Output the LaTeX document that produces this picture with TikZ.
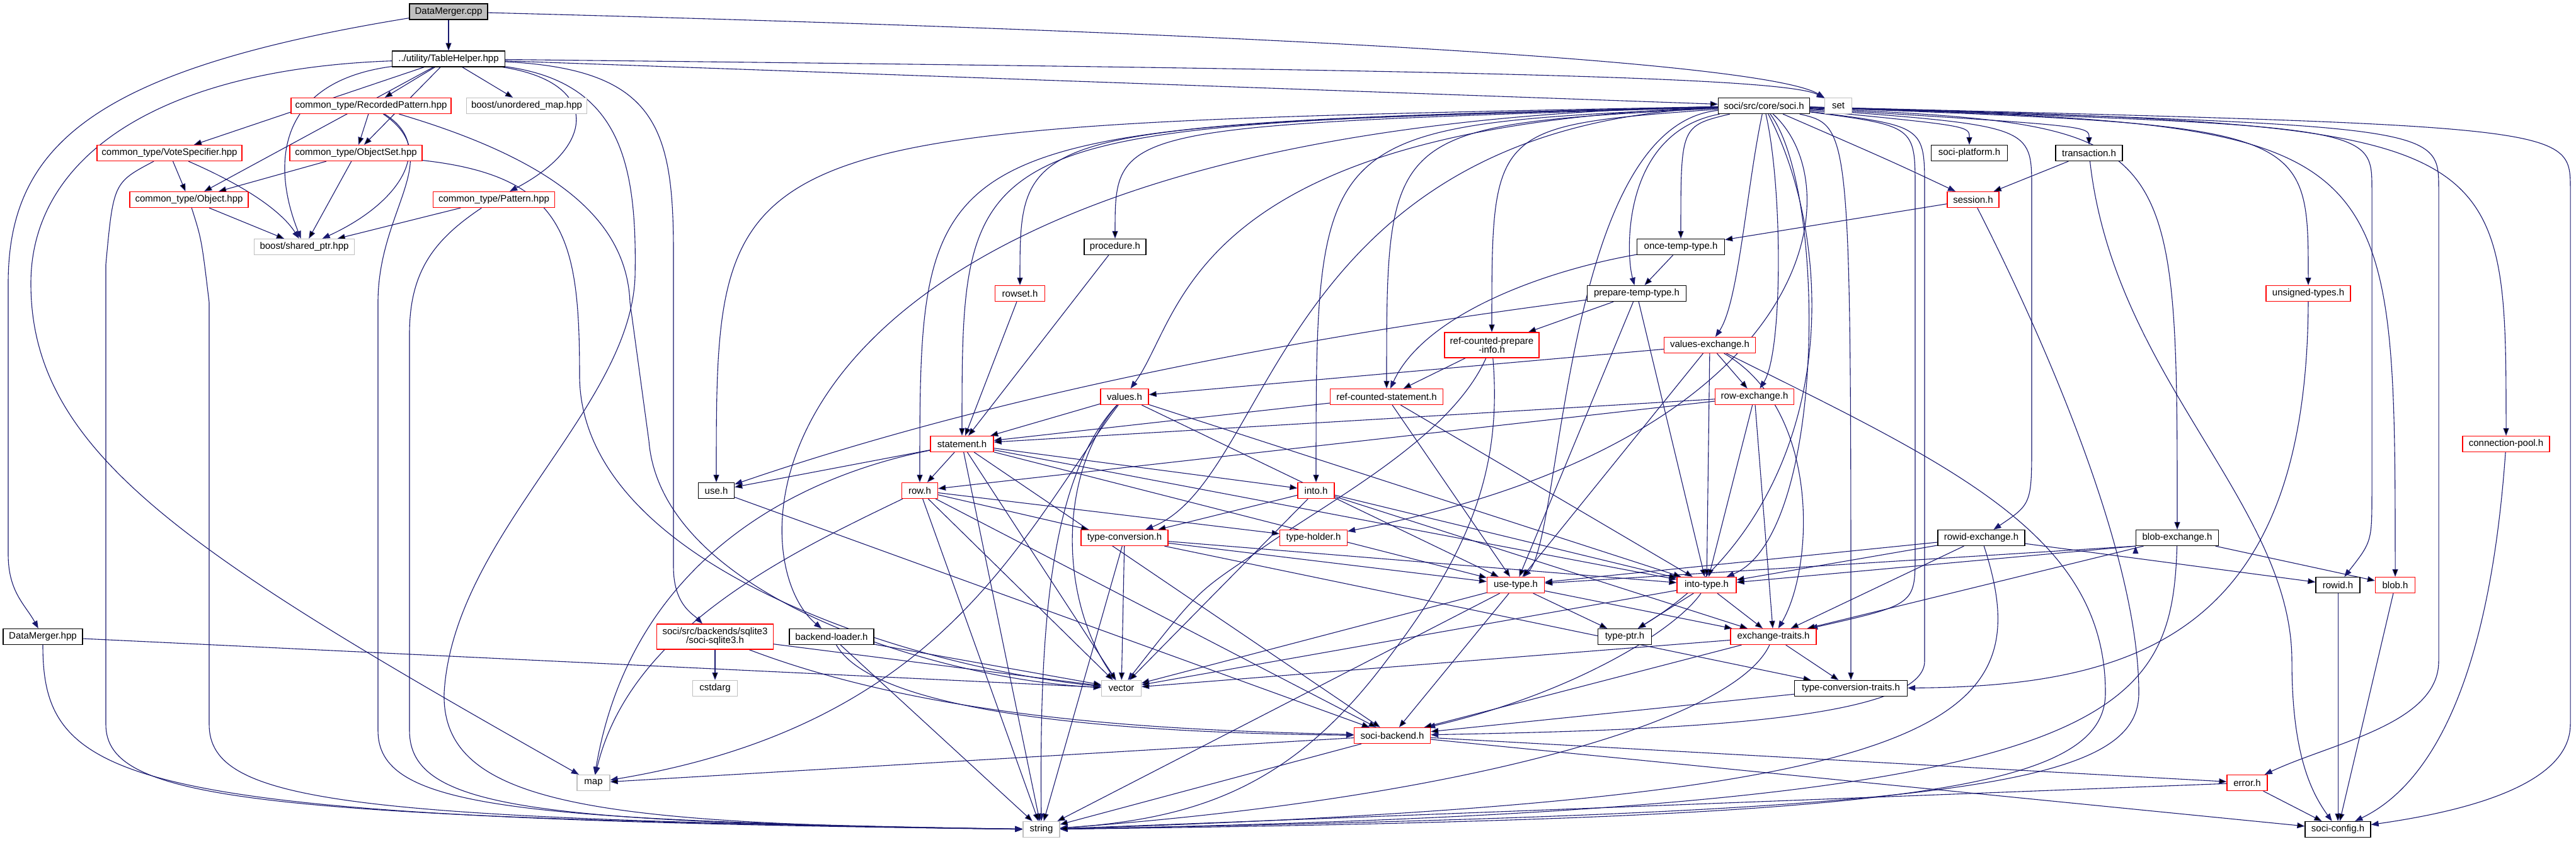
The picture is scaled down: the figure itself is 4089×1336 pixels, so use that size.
\documentclass[tikz,border=0pt]{standalone}
\usepackage{fontspec}
\setmainfont{Liberation Sans}
\usetikzlibrary{arrows.meta}

\definecolor{edgeblue}{HTML}{191970}
\definecolor{extgray}{HTML}{BFBFBF}
\definecolor{trunc}{HTML}{FF0000}

\pgfdeclarelayer{wires}
\pgfsetlayers{wires,main}

\tikzset{
  hdr/.style={draw=black, fill=white, line width=1.3pt, minimum height=25pt,
    inner sep=2pt, font=\fontsize{15}{14}\selectfont},
  hdrred/.style={hdr, draw=trunc},
  hdrext/.style={hdr, draw=extgray},
  hdrtop/.style={hdr, fill=extgray},
  dep/.style={draw=edgeblue, line width=1.1pt, -{Triangle[length=12pt,width=9pt]}},
  sociarc/.style={to path={.. controls (\tikztotarget |- fanrow) .. (\tikztotarget)}}
}

\begin{document}
\begin{tikzpicture}[x=1pt, y=1pt]
    \useasboundingbox (0,0) rectangle (4089,-1336);
    \coordinate (fanrow) at (0,-200);

    % --- Project files ---
    \node[hdrtop, minimum width=124pt] (dmcpp) at (712,-18.5) {DataMerger.cpp};
    \node[hdr, minimum width=179pt] (tblhelper) at (712,-93.5) {../utility/TableHelper.hpp};
    \node[hdrred, minimum width=254pt] (recpat) at (589,-168) {common\_type/RecordedPattern.hpp};
    \node[hdrext, minimum width=191pt] (umap) at (836,-168) {boost/unordered\_map.hpp};
    \node[hdrred, minimum width=230pt] (votespec) at (269,-243) {common\_type/VoteSpecifier.hpp};
    \node[hdrred, minimum width=210pt] (objset) at (565,-243) {common\_type/ObjectSet.hpp};
    \node[hdrred, minimum width=188pt] (object) at (300,-317) {common\_type/Object.hpp};
    \node[hdrred, minimum width=193pt] (pattern) at (784,-317) {common\_type/Pattern.hpp};
    \node[hdrext, minimum width=159pt] (sharedptr) at (483,-392) {boost/shared\_ptr.hpp};
    \node[hdr, minimum width=126pt] (dmhpp) at (68,-1011) {DataMerger.hpp};

    % --- soci core ---
    \node[hdr, minimum width=145pt] (soci) at (2800,-168) {soci/src/core/soci.h};
    \node[hdrext, minimum width=43pt] (set) at (2918,-168) {set};
    \node[hdr, minimum width=121pt] (platform) at (3126,-243) {soci-platform.h};
    \node[hdr, minimum width=106pt] (transaction) at (3316,-243) {transaction.h};
    \node[hdrred, minimum width=82pt] (session) at (3132,-317) {session.h};
    \node[hdr, minimum width=98pt] (procedure) at (1770,-392) {procedure.h};
    \node[hdr, minimum width=139pt] (oncetemp) at (2668,-392) {once-temp-type.h};
    \node[hdrred, minimum width=79pt] (rowset) at (1619,-466) {rowset.h};
    \node[hdr, minimum width=157pt] (preptemp) at (2598,-466) {prepare-temp-type.h};
    \node[hdrred, minimum width=134pt] (unsigned) at (3664,-466) {unsigned-types.h};
    \node[hdrred, minimum width=150pt, minimum height=40pt, align=center] (rcprepinfo) at (2368,-548) {ref-counted-prepare\\-info.h};
    \node[hdrred, minimum width=145pt] (valuesexch) at (2714,-548) {values-exchange.h};
    \node[hdrred, minimum width=76pt] (values) at (1785,-630) {values.h};
    \node[hdrred, minimum width=179pt] (rcstatement) at (2201,-630) {ref-counted-statement.h};
    \node[hdrred, minimum width=125pt] (rowexch) at (2785,-630) {row-exchange.h};
    \node[hdrred, minimum width=100pt] (statement) at (1527,-705) {statement.h};
    \node[hdrred, minimum width=138pt] (connpool) at (3978,-705) {connection-pool.h};
    \node[hdr, minimum width=57pt] (use) at (1137,-779) {use.h};
    \node[hdrred, minimum width=57pt] (row) at (1460,-779) {row.h};
    \node[hdrred, minimum width=58pt] (into) at (2089,-779) {into.h};
    \node[hdrred, minimum width=138pt] (typeconv) at (1785,-854) {type-conversion.h};
    \node[hdrred, minimum width=107pt] (typeholder) at (2085,-854) {type-holder.h};
    \node[hdr, minimum width=138pt] (rowidexch) at (3145,-854) {rowid-exchange.h};
    \node[hdr, minimum width=131pt] (blobexch) at (3456,-854) {blob-exchange.h};
    \node[hdrred, minimum width=91pt] (usetype) at (2406,-929) {use-type.h};
    \node[hdrred, minimum width=94pt] (intotype) at (2709,-929) {into-type.h};
    \node[hdr, minimum width=70pt] (rowid) at (3711,-929) {rowid.h};
    \node[hdrred, minimum width=63pt] (blob) at (3802,-929) {blob.h};
    \node[hdrred, minimum width=185pt, minimum height=40pt, align=center] (sqlite3) at (1135,-1011) {soci/src/backends/sqlite3\\/soci-sqlite3.h};
    \node[hdr, minimum width=134pt] (backendloader) at (1320,-1011) {backend-loader.h};
    \node[hdr, minimum width=85pt] (typeptr) at (2579,-1011) {type-ptr.h};
    \node[hdrred, minimum width=136pt] (exchtraits) at (2815,-1011) {exchange-traits.h};
    \node[hdrext, minimum width=71pt] (cstdarg) at (1135,-1093) {cstdarg};
    \node[hdrext, minimum width=63pt] (vector) at (1780,-1093) {vector};
    \node[hdr, minimum width=179pt] (typeconvtraits) at (2938,-1093) {type-conversion-traits.h};
    \node[hdrred, minimum width=121pt] (backend) at (2210,-1168) {soci-backend.h};
    \node[hdrext, minimum width=52pt] (map) at (942,-1243) {map};
    \node[hdrred, minimum width=64pt] (error) at (3567,-1243) {error.h};
    \node[hdrext, minimum width=58pt] (string) at (1653,-1317) {string};
    \node[hdr, minimum width=104pt] (config) at (3711,-1317) {soci-config.h};

    \begin{pgfonlayer}{wires}
    \fill[white] (0,0) rectangle (4089,-1336);

    % --- DataMerger.cpp ---
    \path[dep] (dmcpp) edge (tblhelper);
    \draw[dep] (dmcpp) .. controls (2300,-60) and (2820,-110) .. (set);
    \draw[dep] (dmcpp) .. controls (150,-110) and (13,-230) .. (13,-450) -- (13,-880)
        .. controls (13,-940) and (40,-960) .. (dmhpp);

    % --- TableHelper.hpp ---
    \path[dep] (tblhelper) edge (recpat) edge (umap) edge (votespec) edge (objset)
        edge (object) edge (soci);
    \draw[dep] (tblhelper) .. controls (2200,-110) and (2830,-120) .. (set);
    \draw[dep] (tblhelper) .. controls (440,-130) and (430,-260) .. (sharedptr);
    \draw[dep] (tblhelper) .. controls (950,-130) and (950,-230) .. (pattern);
    \draw[dep] (tblhelper) .. controls (250,-110) and (49,-250) .. (49,-450)
        .. controls (49,-720) and (300,-880) .. (map);
    \draw[dep] (tblhelper) .. controls (1040,-110) and (1069,-200) .. (1069,-400) -- (1069,-900)
        .. controls (1069,-960) and (1100,-975) .. (sqlite3);
    \draw[dep] (tblhelper) .. controls (980,-130) and (1012,-250) .. (1008,-440)
        .. controls (1000,-650) and (720,-850) .. (705,-1100)
        .. controls (700,-1280) and (950,-1309) .. (string);

    % --- common_type headers ---
    \path[dep] (recpat) edge (objset);
    \draw[dep] (recpat) .. controls (690,-230) and (640,-320) .. (sharedptr);
    \draw[dep] (recpat) .. controls (900,-260) and (995,-360) .. (1000,-480) -- (1030,-700)
        .. controls (1050,-950) and (1500,-1080) .. (vector);
    \draw[dep] (recpat) .. controls (710,-250) and (600,-330) .. (600,-480) -- (600,-1160)
        .. controls (600,-1280) and (800,-1303) .. (string);
    \path[dep] (votespec) edge (object);
    \draw[dep] (votespec) .. controls (400,-300) and (450,-340) .. (sharedptr);
    \draw[dep] (votespec) .. controls (180,-290) .. (168,-420) -- (168,-1150)
        .. controls (168,-1270) and (400,-1298) .. (string);
    \path[dep] (objset) edge (object) edge (sharedptr);
    \draw[dep] (objset) .. controls (900,-280) and (920,-380) .. (920,-600)
        .. controls (925,-900) and (1450,-1060) .. (vector);
    \path[dep] (object) edge (sharedptr);
    \draw[dep] (object) .. controls (320,-380) .. (332,-480) -- (332,-1150)
        .. controls (332,-1275) and (550,-1300) .. (string);
    \path[dep] (pattern) edge (sharedptr);
    \draw[dep] (pattern) .. controls (690,-380) and (650,-430) .. (650,-530) -- (650,-1160)
        .. controls (650,-1285) and (850,-1306) .. (string);
    \path[dep] (dmhpp) edge (vector);
    \draw[dep] (dmhpp) .. controls (68,-1250) and (200,-1300) .. (string);

    % --- soci.h fan ---
    \path[dep] (soci) edge[sociarc] (platform) edge[sociarc] (transaction)
        edge[sociarc] (procedure) edge[sociarc] (rowset) edge[sociarc] (oncetemp)
        edge[sociarc] (statement) edge[sociarc] (use) edge[sociarc] (row)
        edge[sociarc] (into) edge[sociarc] (rcprepinfo) edge[sociarc] (rcstatement)
        edge[sociarc] (blobexch) edge[sociarc] (unsigned) edge[sociarc] (connpool)
        edge[sociarc] (blob) edge[sociarc] (typeconvtraits);
    \draw[dep] (soci) .. controls (3000,-255) .. (session);
    \draw[dep] (soci) .. controls (1880,-200) and (1880,-500) .. (values);
    \draw[dep] (soci) .. controls (1161,-200) and (1161,-880) .. (backendloader);
    \draw[dep] (soci) .. controls (2481,-200) and (2481,-850) .. (usetype);
    \draw[dep] (soci) .. controls (2900,-300) and (2900,-850) .. (intotype);
    \draw[dep] (soci) .. controls (2920,-400) and (2920,-800) .. (typeptr);
    \draw[dep] (soci) .. controls (2575,-210) and (2580,-400) .. (preptemp);
    \draw[dep] (soci) .. controls (2772,-300) and (2760,-480) .. (valuesexch);
    \draw[dep] (soci) .. controls (2830,-300) and (2830,-560) .. (rowexch);
    \draw[dep] (soci) .. controls (2945,-300) and (2880,-700) .. (typeholder);
    \draw[dep] (soci) .. controls (2023,-200) and (2023,-760) .. (typeconv);
    % long drops on the right
    \draw[dep] (soci) .. controls (3225,-200) .. (3225,-300) -- (3225,-700)
        .. controls (3225,-800) .. (rowidexch);
    \draw[dep] (soci) .. controls (3040,-200) .. (3040,-300) -- (3040,-880)
        .. controls (3040,-960) .. (exchtraits);
    \draw[dep] (soci) .. controls (3055,-200) .. (3055,-300) -- (3055,-1050)
        .. controls (3055,-1150) and (2600,-1160) .. (backend);
    \draw[dep] (soci) .. controls (3765,-200) .. (3765,-300) -- (3765,-780)
        .. controls (3765,-860) .. (rowid);
    \draw[dep] (soci) .. controls (3871,-200) .. (3871,-300) -- (3871,-1050)
        .. controls (3871,-1150) and (3700,-1180) .. (error);
    \draw[dep] (soci) .. controls (4080,-200) .. (4080,-300) -- (4080,-1150)
        .. controls (4080,-1250) and (3900,-1290) .. (config);

    % --- session, transaction ---
    \path[dep] (session) edge (oncetemp);
    \draw[dep] (session) .. controls (3200,-450) and (3395,-850) .. (3395,-1100)
        .. controls (3395,-1250) and (3100,-1290) .. (string);
    \path[dep] (transaction) edge (session);
    \draw[dep] (transaction) .. controls (3356,-600) and (3638,-800) .. (3638,-1050)
        .. controls (3638,-1200) and (3670,-1260) .. (config);
    \path[dep] (procedure) edge (statement);
    \path[dep] (rowset) edge (statement);

    % --- temp types, ref-counted ---
    \path[dep] (oncetemp) edge (preptemp);
    \draw[dep] (oncetemp) .. controls (2450,-430) and (2260,-500) .. (rcstatement);
    \path[dep] (preptemp) edge (rcprepinfo) edge (usetype) edge (intotype);
    \draw[dep] (preptemp) .. controls (2100,-530) and (1600,-620) .. (use);
    \path[dep] (rcprepinfo) edge (rcstatement);
    \draw[dep] (rcprepinfo) .. controls (2300,-700) and (2100,-800) .. (1990,-880)
        .. controls (1900,-940) .. (vector);
    \draw[dep] (rcprepinfo) .. controls (2385,-750) and (2330,-880) .. (2200,-1050)
        .. controls (2050,-1250) and (1900,-1300) .. (string);
    \path[dep] (rcstatement) edge (statement) edge (usetype) edge (intotype);

    % --- exchange headers ---
    \path[dep] (valuesexch) edge (values) edge (rowexch) edge (usetype) edge (intotype);
    \draw[dep] (valuesexch) .. controls (2890,-650) and (2880,-900) .. (exchtraits);
    \draw[dep] (valuesexch) .. controls (3100,-740) and (3342,-850) .. (3342,-1100)
        .. controls (3342,-1260) and (3000,-1300) .. (string);
    \path[dep] (rowexch) edge (statement) edge (row) edge (intotype) edge (exchtraits);
    \path[dep] (rowidexch) edge (usetype) edge (intotype) edge (exchtraits) edge (rowid);
    \draw[dep] (rowidexch) .. controls (3241,-1150) and (3100,-1270) .. (string);
    \path[dep] (blobexch.south west) edge (usetype) edge (intotype);
    \path[dep] (blobexch) edge (blob) edge (exchtraits);
    \draw[dep] (blobexch) .. controls (3447,-1150) and (3350,-1285) .. (string);

    % --- values, statement, row ---
    \path[dep] (values) edge (statement) edge (usetype) edge (intotype);
    \draw[dep] (values) .. controls (1620,-850) and (1500,-1150) .. (map);
    \draw[dep] (values) .. controls (1680,-750) and (1680,-950) .. (vector);
    \draw[dep] (values) .. controls (1665,-760) and (1650,-1000) .. (string);
    \path[dep] (statement) edge (use) edge (row) edge (into) edge (intotype) edge (usetype)
        edge (backend) edge (string) edge (vector);
    \draw[dep] (statement) .. controls (1250,-760) and (1000,-900) .. (map);
    \path[dep] (row) edge (typeconv) edge (typeholder) edge (backend) edge (string) edge (vector);
    \draw[dep] (row) .. controls (1250,-880) and (1000,-1000) .. (map);
    \path[dep] (use) edge (backend);
    \path[dep] (into) edge (typeconv) edge (intotype) edge (exchtraits) edge (vector);
    \path[dep] (typeconv) edge (usetype) edge (intotype) edge (typeconvtraits) edge (vector) edge (string);

    % --- use-type, into-type, traits ---
    \path[dep] (usetype) edge (typeptr) edge (exchtraits) edge (backend) edge (vector) edge (string);
    \path[dep] (intotype) edge (typeptr) edge (exchtraits) edge (vector);
    \draw[dep] (intotype) .. controls (2660,-1000) and (2500,-1100) .. (backend);
    \path[dep] (exchtraits) edge (typeconvtraits) edge (backend) edge (vector);
    \draw[dep] (exchtraits) .. controls (2750,-1150) and (2300,-1270) .. (string);
    \path[dep] (typeconvtraits) edge (backend);
    \draw[dep] (unsigned) .. controls (3662,-1000) and (3400,-1090) .. (typeconvtraits);

    % --- backend and config ---
    \path[dep] (backend) edge (map) edge (string) edge (error) edge (config);
    \path[dep] (error) edge (config) edge (string);
    \path[dep] (rowid) edge (config);
    \path[dep] (blob) edge (config);
    \draw[dep] (connpool) .. controls (3950,-1100) and (3850,-1250) .. (config);
    \path[dep] (sqlite3) edge (cstdarg) edge (vector);
    \draw[dep] (sqlite3) .. controls (1500,-1150) and (1900,-1160) .. (backend);
    \path[dep] (backendloader) edge (vector) edge (string);
    \draw[dep] (backendloader) .. controls (1400,-1150) and (1900,-1165) .. (backend);
    \end{pgfonlayer}
\end{tikzpicture}
\end{document}
